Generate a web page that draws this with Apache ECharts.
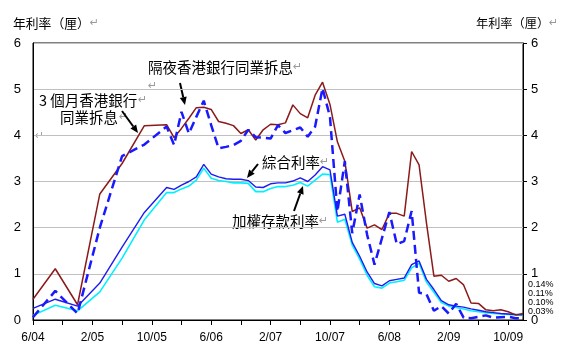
<!DOCTYPE html>
<html><head><meta charset="utf-8">
<script src="https://cdn.jsdelivr.net/npm/echarts@6/dist/echarts.min.js"></script>
<style>html,body{margin:0;padding:0;background:#fff}#c{width:562px;height:356px}</style>
</head><body><div id="c"></div>
<script>
// Dates of observations (quarterly to 12/05, monthly afterwards)
const dates = ['6/04','9/04','12/04','3/05','6/05','9/05','12/05',
 '1/06','2/06','3/06','4/06','5/06','6/06','7/06','8/06','9/06','10/06','11/06','12/06',
 '1/07','2/07','3/07','4/07','5/07','6/07','7/07','8/07','9/07','10/07','11/07','12/07',
 '1/08','2/08','3/08','4/08','5/08','6/08','7/08','8/08','9/08','10/08','11/08','12/08',
 '1/09','2/09','3/09','4/09','5/09','6/09','7/09','8/09','9/09','10/09','11/09','12/09'];
const tickLabels = ['6/04','2/05','10/05','6/06','2/07','10/07','6/08','2/09','10/09'];
const hibor3m = [0.45,1.11,0.33,2.73,3.39,4.21,4.23,
 3.95,4.15,4.37,4.60,4.61,4.56,4.30,4.26,4.21,4.04,4.12,3.90,
 4.12,4.24,4.23,4.27,4.66,4.47,4.38,4.87,5.15,4.67,3.86,3.44,
 2.35,2.43,1.99,2.06,1.96,2.31,2.31,2.25,3.65,3.36,2.10,0.95,
 0.97,0.84,0.90,0.76,0.37,0.36,0.22,0.20,0.22,0.18,0.11,0.14];
const overnight = [0.06,0.63,0.14,2.00,3.55,3.80,4.19,
 3.79,4.51,4.04,4.40,4.75,4.22,3.72,3.75,3.79,3.88,4.12,3.96,
 3.95,3.93,4.22,4.05,4.11,4.17,3.97,4.19,5.02,4.40,2.35,3.44,
 1.88,2.72,1.85,1.20,1.77,2.34,1.64,1.71,2.36,0.59,0.56,0.20,
 0.30,0.14,0.35,0.05,0.04,0.07,0.10,0.05,0.06,0.07,0.04,0.03];
const composite = [0.25,0.45,0.30,0.80,1.58,2.33,2.87,
 2.83,2.92,3.00,3.10,3.37,3.16,3.10,3.06,3.05,3.05,3.02,2.88,
 2.87,2.95,2.97,2.97,3.01,3.08,3.00,3.14,3.32,3.25,2.25,2.29,
 1.68,1.38,1.04,0.79,0.74,0.85,0.88,0.91,1.20,1.28,0.88,0.66,
 0.42,0.33,0.30,0.28,0.24,0.21,0.18,0.16,0.14,0.13,0.12,0.11];
const deposit = [0.10,0.32,0.20,0.61,1.34,2.17,2.76,
 2.76,2.84,2.90,3.03,3.29,3.07,3.02,3.00,2.97,2.97,2.96,2.78,
 2.78,2.85,2.89,2.89,2.92,2.98,2.90,3.03,3.16,3.15,2.12,2.18,
 1.62,1.32,0.97,0.72,0.69,0.80,0.83,0.86,1.13,1.23,0.82,0.60,
 0.38,0.30,0.27,0.24,0.20,0.18,0.16,0.14,0.13,0.12,0.11,0.10];
const endLabels = ['0.14%','0.11%','0.10%','0.03%'];

function monthIdx(s){const p=s.split('/');return (2000+ +p[1]-2004)*12 + (+p[0]) - 6;}
function pairs(vals){return vals.map((v,i)=>[monthIdx(dates[i]),v]);}

const CJK = "'Noto Sans CJK TC','Noto Sans CJK SC',sans-serif";
const NUM = "'Liberation Sans',Arial,sans-serif";
const NARROW = "'Liberation Sans Narrow','Liberation Sans',sans-serif";
const GRAY = '#9a9a9a';

function arrow(x1,y1,x2,y2){
  const a=Math.atan2(y2-y1,x2-x1), L=8, W=3.5;
  const bx=x2-L*Math.cos(a), by=y2-L*Math.sin(a);
  const px=-Math.sin(a)*W, py=Math.cos(a)*W;
  return [
    {type:'line',shape:{x1:x1,y1:y1,x2:bx,y2:by},style:{stroke:'#000',lineWidth:2}},
    {type:'polygon',shape:{points:[[x2,y2],[bx+px,by+py],[bx-px,by-py]]},style:{fill:'#000'}}
  ];
}
function txt(x,y,t,size,extra){
  return Object.assign({type:'text',x:x,y:y,style:{text:t,font:size+'px '+CJK,fill:'#000',textVerticalAlign:'middle'}},extra||{});
}
function rt(x,y,t,size){
  return {type:'text',x:x,y:y,style:{text:'{a|'+t+'}{b|↵}',textVerticalAlign:'middle',
    rich:{a:{fontSize:size,fontFamily:CJK,fill:'#000',fontWeight:'normal'},b:{fontSize:11,fontFamily:'DejaVu Sans',fill:GRAY}}}};
}

const chart = echarts.init(document.getElementById('c'),null,{renderer:'canvas'});
const yBase = {type:'value',min:0,max:6,interval:1,
  axisLine:{show:true,lineStyle:{color:'#000',width:1}},
  axisLabel:{color:'#000',fontFamily:NUM,fontSize:13},
  splitLine:{show:false}};
const graphics = [].concat(
  [rt(13,23,'年利率（厘）',12.8), rt(476,23,'年利率（厘）',12.2)],
  [rt(148,67,'隔夜香港銀行同業拆息',14.5)],
  [txt(39,100,'3 個月香港銀行',14.5), txt(60,117,'同業拆息',14.5)],
  [{type:'text',x:138,y:100,style:{text:'↵',font:'11px DejaVu Sans',fill:GRAY,textVerticalAlign:'middle'}},
   {type:'text',x:119,y:117,style:{text:'↵',font:'11px DejaVu Sans',fill:GRAY,textVerticalAlign:'middle'}},
   {type:'text',x:35,y:136,style:{text:'↵',font:'11px DejaVu Sans',fill:GRAY,textVerticalAlign:'middle'}},
   {type:'text',x:148,y:86,style:{text:'↵',font:'11px DejaVu Sans',fill:GRAY,textVerticalAlign:'middle'}}],
  [rt(262,162,'綜合利率',14.5), rt(232,221,'加權存款利率',14.5)],
  arrow(180,83,185,105), arrow(122,111,138,133), arrow(258,164,247,178), arrow(294,211,303,186),
  endLabels.map((t,i)=>({type:'text',x:528,y:285+i*8.7,style:{text:t,font:'9px '+NUM,fill:'#000',textVerticalAlign:'middle'}}))
);

chart.setOption({
  animation:false,
  backgroundColor:'#fff',
  grid:{left:33,right:39,top:43,bottom:36,show:true,borderColor:'#000',borderWidth:1,backgroundColor:'transparent'},
  xAxis:{type:'value',min:0,max:66,interval:4,
    axisLine:{show:true,onZero:false,lineStyle:{color:'#000',width:1}},
    axisTick:{show:true,length:5,lineStyle:{color:'#000'}},
    axisLabel:{color:'#000',fontFamily:NARROW,fontSize:12,margin:12,showMaxLabel:false,
      formatter:v=>(v%8===0 && tickLabels[v/8])?tickLabels[v/8]:''},
    splitLine:{show:false}},
  yAxis:[
    Object.assign({},yBase,{position:'left',axisTick:{show:false},axisLabel:Object.assign({},yBase.axisLabel,{margin:12}),
      splitLine:{show:true,lineStyle:{color:'#c0c0c0',width:1}}}),
    Object.assign({},yBase,{position:'right',axisTick:{show:true,length:4,lineStyle:{color:'#000'}},axisLabel:Object.assign({},yBase.axisLabel,{margin:8})})
  ],
  series:[
    {name:'加權存款利率',type:'line',data:pairs(deposit),showSymbol:false,symbol:'none',lineStyle:{color:'#00f0ff',width:1.6},z:2},
    {name:'綜合利率',type:'line',data:pairs(composite),showSymbol:false,symbol:'none',lineStyle:{color:'#1c1cf0',width:1.4},z:3},
    {name:'3個月香港銀行同業拆息',type:'line',data:pairs(hibor3m),showSymbol:false,symbol:'none',lineStyle:{color:'#8b1a1a',width:1.5},z:4},
    {name:'隔夜香港銀行同業拆息',type:'line',data:pairs(overnight),showSymbol:false,symbol:'none',lineStyle:{color:'#1a1aff',width:2.5,type:[9,5]},z:5}
  ],
  graphic:graphics
});
</script></body></html>
